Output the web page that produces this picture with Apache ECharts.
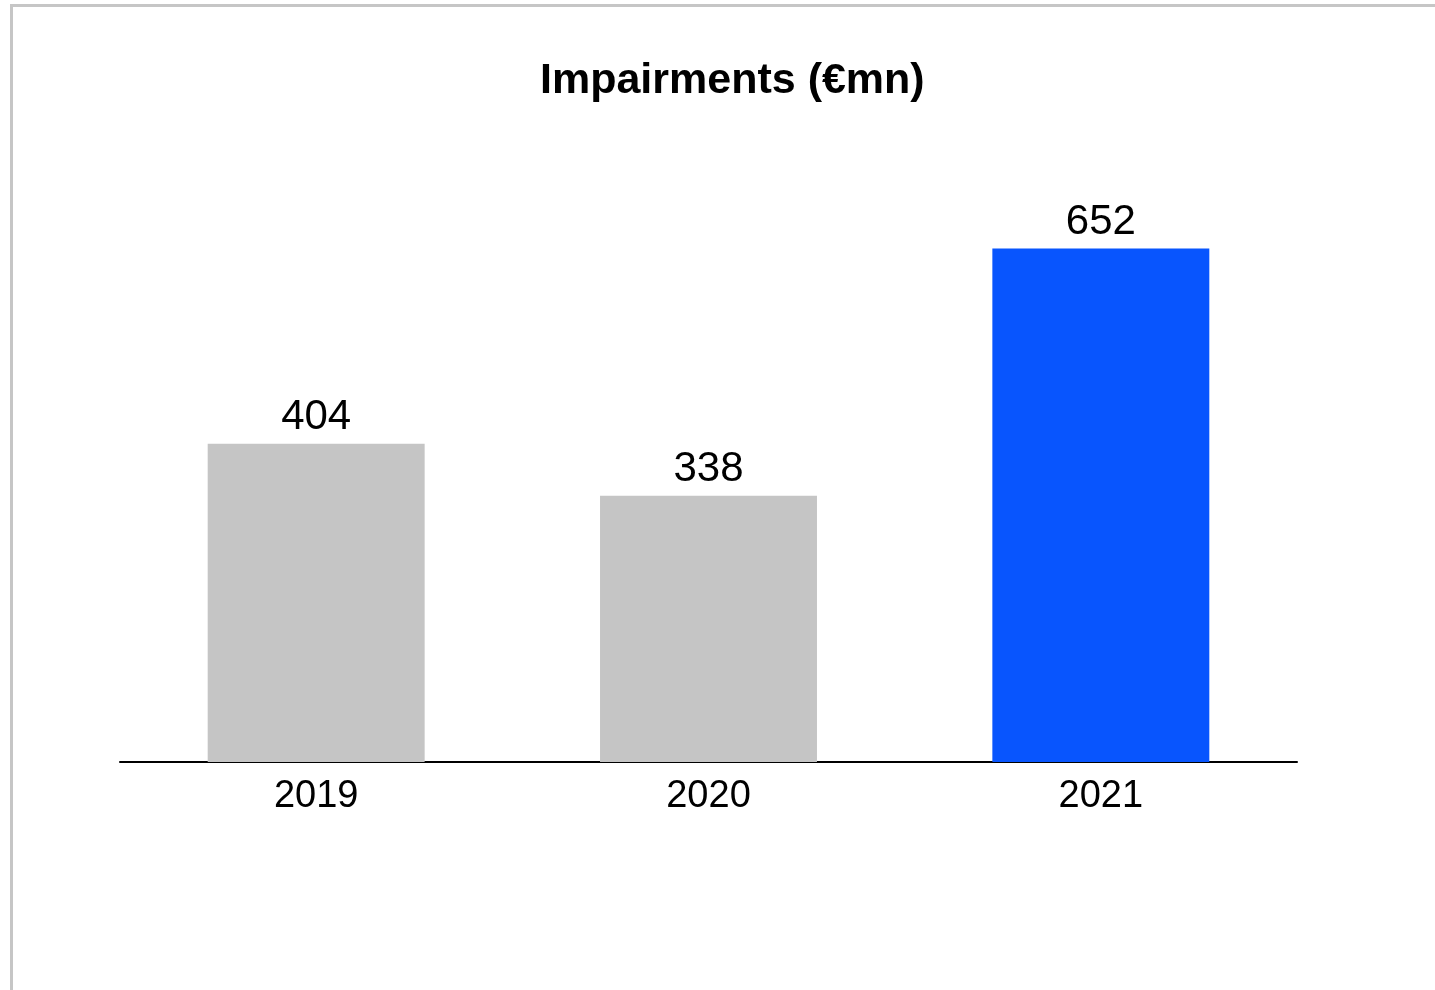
<!DOCTYPE html>
<html>
<head>
<meta charset="utf-8">
<title>Impairments (€mn)</title>
<script src="https://cdn.jsdelivr.net/npm/echarts@6/dist/echarts.min.js"></script>
<style>
  html, body { margin: 0; padding: 0; background: #fff; }
  #chart { position: absolute; left: 0; top: 0; width: 1435px; height: 990px; }
  #frame { position: absolute; left: 10px; top: 4px; right: 0; bottom: 0;
           border-top: 3px solid #c6c6c6; border-left: 3px solid #c6c6c6; pointer-events: none; }
</style>
</head>
<body>
<div id="chart"></div>
<div id="frame"></div>
<script>
// Annual impairments, € millions
const years = ['2019', '2020', '2021'];
const impairments = [404, 338, 652];
const barColors = ['#c5c5c5', '#c5c5c5', '#0855fe'];

const chart = echarts.init(document.getElementById('chart'), null, { renderer: 'canvas' });

chart.setOption({
  animation: false,
  backgroundColor: '#ffffff',
  title: {
    text: 'Impairments (€mn)',
    left: 535,
    top: 55,
    textStyle: {
      fontFamily: 'Liberation Sans, Arial, sans-serif',
      fontSize: 43,
      fontWeight: 'bold',
      color: '#000'
    }
  },
  grid: { left: 120, right: 138, top: 132, bottom: 228, containLabel: false },
  xAxis: {
    type: 'category',
    data: years,
    axisLine: { show: true, lineStyle: { color: '#000', width: 2 } },
    axisTick: { show: false },
    axisLabel: {
      fontFamily: 'Liberation Sans, Arial, sans-serif',
      fontSize: 38,
      color: '#000',
      margin: 16
    }
  },
  yAxis: {
    type: 'value',
    min: 0,
    max: 800,
    show: false,
    splitLine: { show: false }
  },
  series: [{
    type: 'bar',
    barWidth: '55.3%',
    data: impairments.map((v, i) => ({ value: v, itemStyle: { color: barColors[i] } })),
    label: {
      show: true,
      position: 'top',
      distance: 5,
      fontFamily: 'Liberation Sans, Arial, sans-serif',
      fontSize: 42,
      color: '#000'
    }
  }]
});
</script>
</body>
</html>
